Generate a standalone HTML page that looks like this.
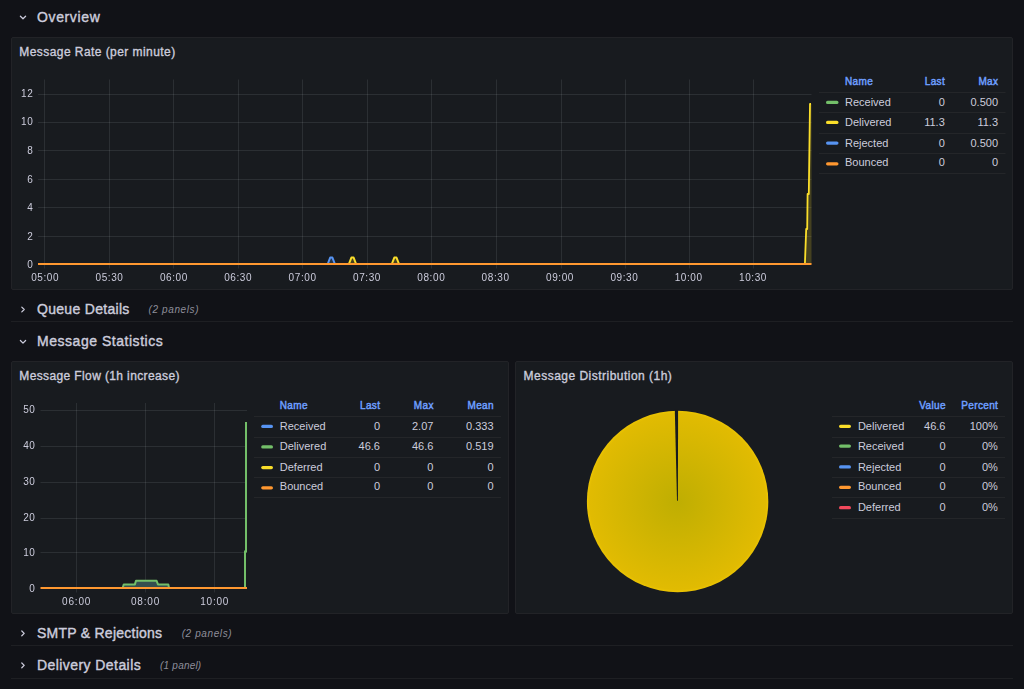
<!DOCTYPE html>
<html><head><meta charset="utf-8"><title>Mail Dashboard</title>
<style>
html,body{margin:0;padding:0;}
body{width:1024px;height:689px;overflow:hidden;background:#111217;position:relative;font-family:"Liberation Sans", sans-serif;}
.panel{position:absolute;box-sizing:border-box;background:#181b1f;border:1px solid #222327;border-radius:2px;}
svg.layer{position:absolute;left:0;top:0;}
svg.canvas{will-change:transform;}
svg text{font-family:"Liberation Sans", sans-serif;}
</style></head>
<body>
<div class="panel" style="left:11px;top:37px;width:1002px;height:253px"></div>
<div class="panel" style="left:11px;top:361px;width:498px;height:253px"></div>
<div class="panel" style="left:515px;top:361px;width:498px;height:253px"></div>
<svg class="layer" width="1024" height="689" viewBox="0 0 1024 689">
<path d="M20.4 16.2 L23 18.8 L25.6 16.2" fill="none" stroke="#ccccdc" stroke-width="1.25" stroke-linecap="round" stroke-linejoin="round"/>
<text x="37" y="21.8" font-size="14" font-weight="400" fill="#ccccdc" text-anchor="start" letter-spacing="0.63" stroke="#ccccdc" stroke-width="0.4">Overview</text>
<path d="M21.8 307.1 L24.2 309.5 L21.8 311.9" fill="none" stroke="#ccccdc" stroke-width="1.25" stroke-linecap="round" stroke-linejoin="round"/>
<text x="37" y="313.5" font-size="14" font-weight="400" fill="#ccccdc" text-anchor="start" letter-spacing="0.3" stroke="#ccccdc" stroke-width="0.4">Queue Details</text>
<text x="148.6" y="312.5" font-size="10" font-weight="400" fill="#8e8e9a" text-anchor="start" letter-spacing="0.6" font-style="italic">(2 panels)</text>
<line x1="11" y1="321.5" x2="1013" y2="321.5" stroke="#1e1f23" stroke-width="1"/>
<path d="M20.4 340.5 L23 343.1 L25.6 340.5" fill="none" stroke="#ccccdc" stroke-width="1.25" stroke-linecap="round" stroke-linejoin="round"/>
<text x="37" y="345.9" font-size="14" font-weight="400" fill="#ccccdc" text-anchor="start" letter-spacing="0.53" stroke="#ccccdc" stroke-width="0.4">Message Statistics</text>
<path d="M21.8 631.0 L24.2 633.4 L21.8 635.8" fill="none" stroke="#ccccdc" stroke-width="1.25" stroke-linecap="round" stroke-linejoin="round"/>
<text x="37" y="638.1" font-size="14" font-weight="400" fill="#ccccdc" text-anchor="start" letter-spacing="0.25" stroke="#ccccdc" stroke-width="0.4">SMTP &amp; Rejections</text>
<text x="181.7" y="637.3" font-size="10" font-weight="400" fill="#8e8e9a" text-anchor="start" letter-spacing="0.6" font-style="italic">(2 panels)</text>
<line x1="11" y1="645.5" x2="1013" y2="645.5" stroke="#1e1f23" stroke-width="1"/>
<path d="M21.8 663.0 L24.2 665.4 L21.8 667.8" fill="none" stroke="#ccccdc" stroke-width="1.25" stroke-linecap="round" stroke-linejoin="round"/>
<text x="37" y="670.2" font-size="14" font-weight="400" fill="#ccccdc" text-anchor="start" letter-spacing="0.43" stroke="#ccccdc" stroke-width="0.4">Delivery Details</text>
<text x="160.1" y="669.3" font-size="10" font-weight="400" fill="#8e8e9a" text-anchor="start" letter-spacing="0.2" font-style="italic">(1 panel)</text>
<line x1="11" y1="678.5" x2="1013" y2="678.5" stroke="#1e1f23" stroke-width="1"/>
<text x="19.25" y="56.25" font-size="12" font-weight="400" fill="#ccccdc" text-anchor="start" letter-spacing="0.44" stroke="#ccccdc" stroke-width="0.35">Message Rate (per minute)</text>
<text x="19.25" y="380" font-size="12" font-weight="400" fill="#ccccdc" text-anchor="start" letter-spacing="0.38" stroke="#ccccdc" stroke-width="0.35">Message Flow (1h increase)</text>
<text x="523.6" y="380" font-size="12" font-weight="400" fill="#ccccdc" text-anchor="start" letter-spacing="0.48" stroke="#ccccdc" stroke-width="0.35">Message Distribution (1h)</text>
<line x1="38" y1="94.5" x2="811.5" y2="94.5" stroke="rgba(240,250,255,0.09)" stroke-width="1"/>
<line x1="38" y1="122.5" x2="811.5" y2="122.5" stroke="rgba(240,250,255,0.09)" stroke-width="1"/>
<line x1="38" y1="150.5" x2="811.5" y2="150.5" stroke="rgba(240,250,255,0.09)" stroke-width="1"/>
<line x1="38" y1="179.5" x2="811.5" y2="179.5" stroke="rgba(240,250,255,0.09)" stroke-width="1"/>
<line x1="38" y1="207.5" x2="811.5" y2="207.5" stroke="rgba(240,250,255,0.09)" stroke-width="1"/>
<line x1="38" y1="236.5" x2="811.5" y2="236.5" stroke="rgba(240,250,255,0.09)" stroke-width="1"/>
<line x1="44.5" y1="79.5" x2="44.5" y2="268.5" stroke="rgba(240,250,255,0.09)" stroke-width="1"/>
<line x1="109.5" y1="79.5" x2="109.5" y2="268.5" stroke="rgba(240,250,255,0.09)" stroke-width="1"/>
<line x1="173.5" y1="79.5" x2="173.5" y2="268.5" stroke="rgba(240,250,255,0.09)" stroke-width="1"/>
<line x1="238.5" y1="79.5" x2="238.5" y2="268.5" stroke="rgba(240,250,255,0.09)" stroke-width="1"/>
<line x1="302.5" y1="79.5" x2="302.5" y2="268.5" stroke="rgba(240,250,255,0.09)" stroke-width="1"/>
<line x1="367.5" y1="79.5" x2="367.5" y2="268.5" stroke="rgba(240,250,255,0.09)" stroke-width="1"/>
<line x1="431.5" y1="79.5" x2="431.5" y2="268.5" stroke="rgba(240,250,255,0.09)" stroke-width="1"/>
<line x1="496.5" y1="79.5" x2="496.5" y2="268.5" stroke="rgba(240,250,255,0.09)" stroke-width="1"/>
<line x1="561.5" y1="79.5" x2="561.5" y2="268.5" stroke="rgba(240,250,255,0.09)" stroke-width="1"/>
<line x1="625.5" y1="79.5" x2="625.5" y2="268.5" stroke="rgba(240,250,255,0.09)" stroke-width="1"/>
<line x1="689.5" y1="79.5" x2="689.5" y2="268.5" stroke="rgba(240,250,255,0.09)" stroke-width="1"/>
<line x1="753.5" y1="79.5" x2="753.5" y2="268.5" stroke="rgba(240,250,255,0.09)" stroke-width="1"/>
<path d="M804.9 264 L806.2 229 L807.2 229 L807.6 194 L808.8 194 L810 104 L811.5 104 L811.5 264 Z" fill="#fade2a" fill-opacity="0.2"/>
<path d="M327.7 264 L330.2 257.6 L332.40000000000003 257.6 L334.90000000000003 264 Z" fill="#5794f2" fill-opacity="0.2"/>
<polyline points="327.7,264 330.2,257.6 332.40000000000003,257.6 334.90000000000003,264" fill="none" stroke="#5794f2" stroke-width="2" stroke-linejoin="round"/>
<path d="M348.9 264 L351.4 257.6 L353.6 257.6 L356.1 264 Z" fill="#fade2a" fill-opacity="0.2"/>
<polyline points="348.9,264 351.4,257.6 353.6,257.6 356.1,264" fill="none" stroke="#fade2a" stroke-width="2" stroke-linejoin="round"/>
<path d="M391.79999999999995 264 L394.29999999999995 257.6 L396.5 257.6 L399.0 264 Z" fill="#fade2a" fill-opacity="0.2"/>
<polyline points="391.79999999999995,264 394.29999999999995,257.6 396.5,257.6 399.0,264" fill="none" stroke="#fade2a" stroke-width="2" stroke-linejoin="round"/>
<polyline points="804.9,264 806.2,229 807.2,229 807.6,194 808.8,194 810,104 811,104" fill="none" stroke="#fade2a" stroke-width="1.8" stroke-linejoin="round"/>
<line x1="38" y1="264" x2="811.5" y2="264" stroke="#ff9830" stroke-width="2"/>
<text x="845" y="84.9" font-size="10" font-weight="400" fill="#6e9fff" text-anchor="start" letter-spacing="0.35" stroke="#6e9fff" stroke-width="0.45">Name</text>
<text x="945.1" y="84.9" font-size="10" font-weight="400" fill="#6e9fff" text-anchor="end" letter-spacing="0.35" stroke="#6e9fff" stroke-width="0.45">Last</text>
<text x="998.35" y="84.9" font-size="10" font-weight="400" fill="#6e9fff" text-anchor="end" letter-spacing="0.35" stroke="#6e9fff" stroke-width="0.45">Max</text>
<line x1="819" y1="92.5" x2="1005.5" y2="92.5" stroke="#242629" stroke-width="1"/>
<line x1="819" y1="112.5" x2="1005.5" y2="112.5" stroke="#242629" stroke-width="1"/>
<line x1="819" y1="133.5" x2="1005.5" y2="133.5" stroke="#242629" stroke-width="1"/>
<line x1="819" y1="153.5" x2="1005.5" y2="153.5" stroke="#242629" stroke-width="1"/>
<line x1="819" y1="173.5" x2="1005.5" y2="173.5" stroke="#242629" stroke-width="1"/>
<rect x="826" y="100.8" width="12.5" height="3.2" rx="1.6" fill="#73bf69"/>
<text x="845" y="105.8" font-size="11" font-weight="400" fill="#ccccdc" text-anchor="start">Received</text>
<text x="944.75" y="105.8" font-size="11" font-weight="400" fill="#ccccdc" text-anchor="end">0</text>
<text x="998" y="105.8" font-size="11" font-weight="400" fill="#ccccdc" text-anchor="end">0.500</text>
<rect x="826" y="120.8" width="12.5" height="3.2" rx="1.6" fill="#fade2a"/>
<text x="845" y="125.8" font-size="11" font-weight="400" fill="#ccccdc" text-anchor="start">Delivered</text>
<text x="944.75" y="125.8" font-size="11" font-weight="400" fill="#ccccdc" text-anchor="end">11.3</text>
<text x="998" y="125.8" font-size="11" font-weight="400" fill="#ccccdc" text-anchor="end">11.3</text>
<rect x="826" y="141.5" width="12.5" height="3.2" rx="1.6" fill="#5794f2"/>
<text x="845" y="146.5" font-size="11" font-weight="400" fill="#ccccdc" text-anchor="start">Rejected</text>
<text x="944.75" y="146.5" font-size="11" font-weight="400" fill="#ccccdc" text-anchor="end">0</text>
<text x="998" y="146.5" font-size="11" font-weight="400" fill="#ccccdc" text-anchor="end">0.500</text>
<rect x="826" y="162.2" width="12.5" height="3.2" rx="1.6" fill="#ff9830"/>
<text x="845" y="166.2" font-size="11" font-weight="400" fill="#ccccdc" text-anchor="start">Bounced</text>
<text x="944.75" y="166.2" font-size="11" font-weight="400" fill="#ccccdc" text-anchor="end">0</text>
<text x="998" y="166.2" font-size="11" font-weight="400" fill="#ccccdc" text-anchor="end">0</text>
<line x1="40.5" y1="410.5" x2="247" y2="410.5" stroke="rgba(240,250,255,0.09)" stroke-width="1"/>
<line x1="40.5" y1="446.5" x2="247" y2="446.5" stroke="rgba(240,250,255,0.09)" stroke-width="1"/>
<line x1="40.5" y1="482.5" x2="247" y2="482.5" stroke="rgba(240,250,255,0.09)" stroke-width="1"/>
<line x1="40.5" y1="518.5" x2="247" y2="518.5" stroke="rgba(240,250,255,0.09)" stroke-width="1"/>
<line x1="40.5" y1="552.5" x2="247" y2="552.5" stroke="rgba(240,250,255,0.09)" stroke-width="1"/>
<line x1="76.5" y1="403" x2="76.5" y2="592.5" stroke="rgba(240,250,255,0.09)" stroke-width="1"/>
<line x1="145.5" y1="403" x2="145.5" y2="592.5" stroke="rgba(240,250,255,0.09)" stroke-width="1"/>
<line x1="214.5" y1="403" x2="214.5" y2="592.5" stroke="rgba(240,250,255,0.09)" stroke-width="1"/>
<path d="M122.6 588 L123.8 584.4 L134.9 584.4 L136 580.8 L156.6 580.8 L158 584.4 L168.3 584.4 L169 588 Z" fill="#354f4f"/>
<polyline points="122.6,588 123.8,584.4 134.9,584.4 136,580.8 156.6,580.8 158,584.4 168.3,584.4 169,588" fill="none" stroke="#73bf69" stroke-width="2" stroke-linejoin="round"/>
<polyline points="245,588 245,551.6 246,551.6 246,422" fill="none" stroke="#73bf69" stroke-width="2"/>
<line x1="40.5" y1="588" x2="247" y2="588" stroke="#ff9830" stroke-width="2"/>
<text x="279.8" y="409.3" font-size="10" font-weight="400" fill="#6e9fff" text-anchor="start" letter-spacing="0.35" stroke="#6e9fff" stroke-width="0.45">Name</text>
<text x="380.35" y="409.3" font-size="10" font-weight="400" fill="#6e9fff" text-anchor="end" letter-spacing="0.35" stroke="#6e9fff" stroke-width="0.45">Last</text>
<text x="433.75" y="409.3" font-size="10" font-weight="400" fill="#6e9fff" text-anchor="end" letter-spacing="0.35" stroke="#6e9fff" stroke-width="0.45">Max</text>
<text x="493.95" y="409.3" font-size="10" font-weight="400" fill="#6e9fff" text-anchor="end" letter-spacing="0.35" stroke="#6e9fff" stroke-width="0.45">Mean</text>
<line x1="254" y1="416.5" x2="501" y2="416.5" stroke="#242629" stroke-width="1"/>
<line x1="254" y1="437.5" x2="501" y2="437.5" stroke="#242629" stroke-width="1"/>
<line x1="254" y1="457.5" x2="501" y2="457.5" stroke="#242629" stroke-width="1"/>
<line x1="254" y1="477.5" x2="501" y2="477.5" stroke="#242629" stroke-width="1"/>
<line x1="254" y1="497.5" x2="501" y2="497.5" stroke="#242629" stroke-width="1"/>
<rect x="261.2" y="424.8" width="11.800000000000011" height="3.2" rx="1.6" fill="#5794f2"/>
<text x="279.8" y="429.8" font-size="11" font-weight="400" fill="#ccccdc" text-anchor="start">Received</text>
<text x="380" y="429.8" font-size="11" font-weight="400" fill="#ccccdc" text-anchor="end">0</text>
<text x="433.4" y="429.8" font-size="11" font-weight="400" fill="#ccccdc" text-anchor="end">2.07</text>
<text x="493.6" y="429.8" font-size="11" font-weight="400" fill="#ccccdc" text-anchor="end">0.333</text>
<rect x="261.2" y="445.3" width="11.800000000000011" height="3.2" rx="1.6" fill="#73bf69"/>
<text x="279.8" y="450.3" font-size="11" font-weight="400" fill="#ccccdc" text-anchor="start">Delivered</text>
<text x="380" y="450.3" font-size="11" font-weight="400" fill="#ccccdc" text-anchor="end">46.6</text>
<text x="433.4" y="450.3" font-size="11" font-weight="400" fill="#ccccdc" text-anchor="end">46.6</text>
<text x="493.6" y="450.3" font-size="11" font-weight="400" fill="#ccccdc" text-anchor="end">0.519</text>
<rect x="261.2" y="466.0" width="11.800000000000011" height="3.2" rx="1.6" fill="#fade2a"/>
<text x="279.8" y="471" font-size="11" font-weight="400" fill="#ccccdc" text-anchor="start">Deferred</text>
<text x="380" y="471" font-size="11" font-weight="400" fill="#ccccdc" text-anchor="end">0</text>
<text x="433.4" y="471" font-size="11" font-weight="400" fill="#ccccdc" text-anchor="end">0</text>
<text x="493.6" y="471" font-size="11" font-weight="400" fill="#ccccdc" text-anchor="end">0</text>
<rect x="261.2" y="486.2" width="11.800000000000011" height="3.2" rx="1.6" fill="#ff9830"/>
<text x="279.8" y="490.4" font-size="11" font-weight="400" fill="#ccccdc" text-anchor="start">Bounced</text>
<text x="380" y="490.4" font-size="11" font-weight="400" fill="#ccccdc" text-anchor="end">0</text>
<text x="433.4" y="490.4" font-size="11" font-weight="400" fill="#ccccdc" text-anchor="end">0</text>
<text x="493.6" y="490.4" font-size="11" font-weight="400" fill="#ccccdc" text-anchor="end">0</text>
<defs><radialGradient id="pg" cx="677.6" cy="501.5" r="90.7" gradientUnits="userSpaceOnUse"><stop offset="0" stop-color="#bfae02"/><stop offset="0.97" stop-color="#e1bb02"/><stop offset="1" stop-color="#ecc402"/></radialGradient></defs>
<circle cx="677.6" cy="501.5" r="90.7" fill="url(#pg)"/>
<path d="M674.8 409.5 L678.1 409.5 L677.9 500.8 L677.0 500.8 Z" fill="#181b1f"/>
<text x="945.85" y="409.2" font-size="10" font-weight="400" fill="#6e9fff" text-anchor="end" letter-spacing="0.35" stroke="#6e9fff" stroke-width="0.45">Value</text>
<text x="998.25" y="409.2" font-size="10" font-weight="400" fill="#6e9fff" text-anchor="end" letter-spacing="0.35" stroke="#6e9fff" stroke-width="0.45">Percent</text>
<line x1="832" y1="416.5" x2="1005" y2="416.5" stroke="#242629" stroke-width="1"/>
<line x1="832" y1="437.5" x2="1005" y2="437.5" stroke="#242629" stroke-width="1"/>
<line x1="832" y1="457.5" x2="1005" y2="457.5" stroke="#242629" stroke-width="1"/>
<line x1="832" y1="477.5" x2="1005" y2="477.5" stroke="#242629" stroke-width="1"/>
<line x1="832" y1="497.5" x2="1005" y2="497.5" stroke="#242629" stroke-width="1"/>
<line x1="832" y1="518.5" x2="1005" y2="518.5" stroke="#242629" stroke-width="1"/>
<rect x="839" y="424.69999999999993" width="12" height="3.2" rx="1.6" fill="#fade2a"/>
<text x="857.9" y="429.9" font-size="11" font-weight="400" fill="#ccccdc" text-anchor="start">Delivered</text>
<text x="945.5" y="429.9" font-size="11" font-weight="400" fill="#ccccdc" text-anchor="end">46.6</text>
<text x="997.9" y="429.9" font-size="11" font-weight="400" fill="#ccccdc" text-anchor="end">100%</text>
<rect x="839" y="444.49999999999994" width="12" height="3.2" rx="1.6" fill="#73bf69"/>
<text x="857.9" y="449.7" font-size="11" font-weight="400" fill="#ccccdc" text-anchor="start">Received</text>
<text x="945.5" y="449.7" font-size="11" font-weight="400" fill="#ccccdc" text-anchor="end">0</text>
<text x="997.9" y="449.7" font-size="11" font-weight="400" fill="#ccccdc" text-anchor="end">0%</text>
<rect x="839" y="465.29999999999995" width="12" height="3.2" rx="1.6" fill="#5794f2"/>
<text x="857.9" y="470.5" font-size="11" font-weight="400" fill="#ccccdc" text-anchor="start">Rejected</text>
<text x="945.5" y="470.5" font-size="11" font-weight="400" fill="#ccccdc" text-anchor="end">0</text>
<text x="997.9" y="470.5" font-size="11" font-weight="400" fill="#ccccdc" text-anchor="end">0%</text>
<rect x="839" y="485.69999999999993" width="12" height="3.2" rx="1.6" fill="#ff9830"/>
<text x="857.9" y="489.7" font-size="11" font-weight="400" fill="#ccccdc" text-anchor="start">Bounced</text>
<text x="945.5" y="489.7" font-size="11" font-weight="400" fill="#ccccdc" text-anchor="end">0</text>
<text x="997.9" y="489.7" font-size="11" font-weight="400" fill="#ccccdc" text-anchor="end">0%</text>
<rect x="839" y="506.09999999999997" width="12" height="3.2" rx="1.6" fill="#f2495c"/>
<text x="857.9" y="510.5" font-size="11" font-weight="400" fill="#ccccdc" text-anchor="start">Deferred</text>
<text x="945.5" y="510.5" font-size="11" font-weight="400" fill="#ccccdc" text-anchor="end">0</text>
<text x="997.9" y="510.5" font-size="11" font-weight="400" fill="#ccccdc" text-anchor="end">0%</text>
</svg>
<svg class="layer canvas" width="1024" height="689" viewBox="0 0 1024 689">
<text x="45.2" y="280.6" font-size="10" font-weight="400" fill="#ccccdc" text-anchor="middle" letter-spacing="0.6">05:00</text>
<text x="109.5" y="280.6" font-size="10" font-weight="400" fill="#ccccdc" text-anchor="middle" letter-spacing="0.6">05:30</text>
<text x="173.9" y="280.6" font-size="10" font-weight="400" fill="#ccccdc" text-anchor="middle" letter-spacing="0.6">06:00</text>
<text x="238.2" y="280.6" font-size="10" font-weight="400" fill="#ccccdc" text-anchor="middle" letter-spacing="0.6">06:30</text>
<text x="302.6" y="280.6" font-size="10" font-weight="400" fill="#ccccdc" text-anchor="middle" letter-spacing="0.6">07:00</text>
<text x="367.0" y="280.6" font-size="10" font-weight="400" fill="#ccccdc" text-anchor="middle" letter-spacing="0.6">07:30</text>
<text x="431.3" y="280.6" font-size="10" font-weight="400" fill="#ccccdc" text-anchor="middle" letter-spacing="0.6">08:00</text>
<text x="495.6" y="280.6" font-size="10" font-weight="400" fill="#ccccdc" text-anchor="middle" letter-spacing="0.6">08:30</text>
<text x="560.0" y="280.6" font-size="10" font-weight="400" fill="#ccccdc" text-anchor="middle" letter-spacing="0.6">09:00</text>
<text x="624.4" y="280.6" font-size="10" font-weight="400" fill="#ccccdc" text-anchor="middle" letter-spacing="0.6">09:30</text>
<text x="688.7" y="280.6" font-size="10" font-weight="400" fill="#ccccdc" text-anchor="middle" letter-spacing="0.6">10:00</text>
<text x="753.0" y="280.6" font-size="10" font-weight="400" fill="#ccccdc" text-anchor="middle" letter-spacing="0.6">10:30</text>
<text x="33.4" y="267.8" font-size="10" font-weight="400" fill="#ccccdc" text-anchor="end" letter-spacing="0.6">0</text>
<text x="33.4" y="239.8" font-size="10" font-weight="400" fill="#ccccdc" text-anchor="end" letter-spacing="0.6">2</text>
<text x="33.4" y="210.5" font-size="10" font-weight="400" fill="#ccccdc" text-anchor="end" letter-spacing="0.6">4</text>
<text x="33.4" y="183.0" font-size="10" font-weight="400" fill="#ccccdc" text-anchor="end" letter-spacing="0.6">6</text>
<text x="33.4" y="153.8" font-size="10" font-weight="400" fill="#ccccdc" text-anchor="end" letter-spacing="0.6">8</text>
<text x="33.4" y="125.1" font-size="10" font-weight="400" fill="#ccccdc" text-anchor="end" letter-spacing="0.6">10</text>
<text x="33.4" y="96.7" font-size="10" font-weight="400" fill="#ccccdc" text-anchor="end" letter-spacing="0.6">12</text>
<text x="35.5" y="591.6" font-size="10" font-weight="400" fill="#ccccdc" text-anchor="end" letter-spacing="0.6">0</text>
<text x="35.5" y="555.6" font-size="10" font-weight="400" fill="#ccccdc" text-anchor="end" letter-spacing="0.6">10</text>
<text x="35.5" y="521.1" font-size="10" font-weight="400" fill="#ccccdc" text-anchor="end" letter-spacing="0.6">20</text>
<text x="35.5" y="485.1" font-size="10" font-weight="400" fill="#ccccdc" text-anchor="end" letter-spacing="0.6">30</text>
<text x="35.5" y="449.0" font-size="10" font-weight="400" fill="#ccccdc" text-anchor="end" letter-spacing="0.6">40</text>
<text x="35.5" y="413.2" font-size="10" font-weight="400" fill="#ccccdc" text-anchor="end" letter-spacing="0.6">50</text>
<text x="76.6" y="604.8" font-size="10" font-weight="400" fill="#ccccdc" text-anchor="middle" letter-spacing="0.8">06:00</text>
<text x="145.5" y="604.8" font-size="10" font-weight="400" fill="#ccccdc" text-anchor="middle" letter-spacing="0.8">08:00</text>
<text x="214.7" y="604.8" font-size="10" font-weight="400" fill="#ccccdc" text-anchor="middle" letter-spacing="0.8">10:00</text>
</svg>
</body></html>
